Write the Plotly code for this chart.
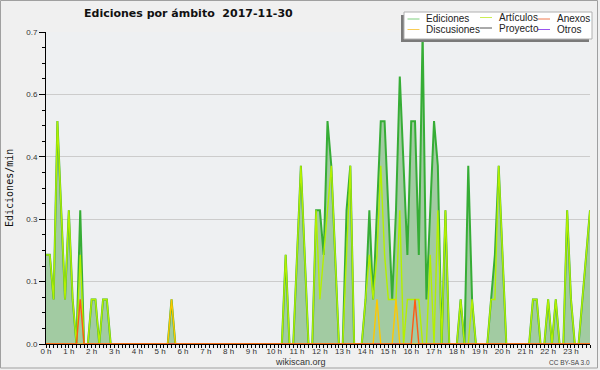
import plotly.graph_objects as go

# 10-minute bins, 00:00 .. 23:50 (6 values per hour row)
ediciones = [
    0.2, 0.2, 0.1, 0.5, 0.3, 0.1,   # 0 h
    0.3, 0.1, 0.0, 0.3, 0.0, 0.0,   # 1 h
    0.1, 0.1, 0.0, 0.1, 0.1, 0.0,   # 2 h
    0.0, 0.0, 0.0, 0.0, 0.0, 0.0,   # 3 h
    0.0, 0.0, 0.0, 0.0, 0.0, 0.0,   # 4 h
    0.0, 0.0, 0.0, 0.1, 0.0, 0.0,   # 5 h
    0.0, 0.0, 0.0, 0.0, 0.0, 0.0,   # 6 h
    0.0, 0.0, 0.0, 0.0, 0.0, 0.0,   # 7 h
    0.0, 0.0, 0.0, 0.0, 0.0, 0.0,   # 8 h
    0.0, 0.0, 0.0, 0.0, 0.0, 0.0,   # 9 h
    0.0, 0.0, 0.0, 0.2, 0.0, 0.0,   # 10 h
    0.2, 0.4, 0.2, 0.0, 0.0, 0.3,   # 11 h
    0.3, 0.2, 0.5, 0.4, 0.2, 0.0,   # 12 h
    0.0, 0.3, 0.4, 0.0, 0.0, 0.0,   # 13 h
    0.1, 0.3, 0.1, 0.3, 0.5, 0.5,   # 14 h
    0.3, 0.1, 0.3, 0.6, 0.4, 0.2,   # 15 h
    0.5, 0.5, 0.2, 0.7, 0.1, 0.3,   # 16 h
    0.5, 0.4, 0.0, 0.3, 0.0, 0.0,   # 17 h
    0.0, 0.1, 0.0, 0.4, 0.1, 0.0,   # 18 h
    0.0, 0.0, 0.0, 0.1, 0.2, 0.4,   # 19 h
    0.2, 0.0, 0.0, 0.0, 0.0, 0.0,   # 20 h
    0.0, 0.0, 0.1, 0.1, 0.0, 0.0,   # 21 h
    0.1, 0.0, 0.1, 0.0, 0.0, 0.3,   # 22 h
    0.1, 0.0, 0.0, 0.1, 0.2, 0.3,   # 23 h
]
articulos = [
    0.2, 0.2, 0.1, 0.5, 0.3, 0.1,
    0.3, 0.1, 0.0, 0.2, 0.0, 0.0,
    0.1, 0.1, 0.0, 0.1, 0.1, 0.0,
    0.0, 0.0, 0.0, 0.0, 0.0, 0.0,
    0.0, 0.0, 0.0, 0.0, 0.0, 0.0,
    0.0, 0.0, 0.0, 0.0, 0.0, 0.0,
    0.0, 0.0, 0.0, 0.0, 0.0, 0.0,
    0.0, 0.0, 0.0, 0.0, 0.0, 0.0,
    0.0, 0.0, 0.0, 0.0, 0.0, 0.0,
    0.0, 0.0, 0.0, 0.0, 0.0, 0.0,
    0.0, 0.0, 0.0, 0.2, 0.0, 0.0,
    0.2, 0.4, 0.2, 0.0, 0.0, 0.3,
    0.1, 0.2, 0.3, 0.4, 0.2, 0.0,
    0.0, 0.2, 0.4, 0.0, 0.0, 0.0,
    0.1, 0.2, 0.1, 0.2, 0.4, 0.2,
    0.1, 0.1, 0.1, 0.3, 0.0, 0.1,
    0.1, 0.1, 0.1, 0.0, 0.0, 0.2,
    0.0, 0.3, 0.0, 0.3, 0.0, 0.0,
    0.0, 0.1, 0.0, 0.0, 0.1, 0.0,
    0.0, 0.0, 0.0, 0.1, 0.1, 0.4,
    0.2, 0.0, 0.0, 0.0, 0.0, 0.0,
    0.0, 0.0, 0.1, 0.1, 0.0, 0.0,
    0.1, 0.0, 0.1, 0.0, 0.0, 0.3,
    0.1, 0.0, 0.0, 0.1, 0.2, 0.3,
]
anexos_bins = {9: 0.1, 97: 0.1}
discusiones_bins = {33: 0.1, 87: 0.1, 92: 0.1}
anexos = [anexos_bins.get(i, 0.0) for i in range(144)]
discusiones = [discusiones_bins.get(i, 0.0) for i in range(144)]
proyecto = [0.0] * 144
otros = [0.0] * 144

hour_labels = [f"{h} h" for h in range(24)]
y_tickvals = [0.0, 0.14, 0.28, 0.42, 0.56, 0.7]
y_ticktext = ["0.0", "0.1", "0.3", "0.4", "0.6", "0.7"]

x = [i / 6 for i in range(144)]

C_TOT = "#36ad36"
C_ART = "#b4f000"
C_ANX = "#ff5a14"
C_DIS = "#ffc800"
C_PRO = "#444444"
C_OTR = "#9933ee"

fig = go.Figure()
fig.add_trace(go.Scatter(x=x, y=ediciones, mode="lines", fill="tozeroy",
                         fillcolor="#a2cba2", line=dict(color=C_TOT, width=2),
                         name="Ediciones", showlegend=False))
fig.add_trace(go.Scatter(x=x, y=articulos, mode="lines",
                         line=dict(color=C_ART, width=1.4), name="Artículos", showlegend=False))
fig.add_trace(go.Scatter(x=x, y=proyecto, mode="lines",
                         line=dict(color=C_PRO, width=1), name="Proyecto", showlegend=False))
fig.add_trace(go.Scatter(x=x, y=otros, mode="lines",
                         line=dict(color=C_OTR, width=1), name="Otros", showlegend=False))
fig.add_trace(go.Scatter(x=x, y=discusiones, mode="lines",
                         line=dict(color=C_DIS, width=1.4), name="Discusiones", showlegend=False))
fig.add_trace(go.Scatter(x=x, y=anexos, mode="lines",
                         line=dict(color=C_ANX, width=1.4), name="Anexos", showlegend=False))

L, R, T, B = 46, 590, 32, 344
W, H = R - L, B - T


def px(xp):
    return (xp - L) / W


def py(yp):
    return (B - yp) / H


shapes = []
annotations = []
# outer frame
shapes.append(dict(type="rect", xref="paper", yref="paper", x0=px(0.5), x1=px(597.5),
                   y0=py(0.5), y1=py(368), line=dict(color="#a0a0a0", width=1), layer="below"))
# legend shadow + box
shapes.append(dict(type="rect", xref="paper", yref="paper", x0=px(401), x1=px(589),
                   y0=py(15), y1=py(42), line=dict(width=0), fillcolor="#7a7a7a"))
shapes.append(dict(type="rect", xref="paper", yref="paper", x0=px(404), x1=px(592),
                   y0=py(12), y1=py(39), line=dict(color="#b0b0b0", width=1), fillcolor="#ffffff"))

legend_items = [
    ("Ediciones", "#7fcf7f", 407.5, 419.5, 19.0),
    ("Discusiones", "#f8cc55", 407.5, 419.5, 29.5),
    ("Artículos", "#ccee55", 480, 492, 17.5),
    ("Proyecto", "#555555", 480, 492, 28.0),
    ("Anexos", "#f07a50", 538, 550, 19.0),
    ("Otros", "#9a55ee", 538, 550, 29.5),
]
for name, col, x0, x1, yy in legend_items:
    shapes.append(dict(type="line", xref="paper", yref="paper", x0=px(x0), x1=px(x1),
                       y0=py(yy), y1=py(yy), line=dict(color=col, width=1)))
    annotations.append(dict(xref="paper", yref="paper", x=px(x1 + 4.5), y=py(yy),
                            xanchor="left", yanchor="middle", showarrow=False, text=name,
                            font=dict(family="Liberation Sans", size=10, color="#222222")))

annotations.append(dict(xref="paper", yref="paper", x=px(188.5), y=py(14), xanchor="center",
                        yanchor="middle", showarrow=False,
                        text="<b>Ediciones por ámbito  2017-11-30</b>",
                        font=dict(family="DejaVu Sans", size=11, color="#111111")))
annotations.append(dict(xref="paper", yref="paper", x=px(9), y=py(188), xanchor="center",
                        yanchor="middle", showarrow=False, text="Ediciones/min", textangle=-90,
                        font=dict(family="DejaVu Sans Mono", size=10, color="#111111")))
annotations.append(dict(xref="paper", yref="paper", x=px(300.5), y=py(362), xanchor="center",
                        yanchor="middle", showarrow=False, text="wikiscan.org",
                        font=dict(family="Liberation Sans", size=9, color="#333333")))
annotations.append(dict(xref="paper", yref="paper", x=px(569), y=py(362.5), xanchor="center",
                        yanchor="middle", showarrow=False, text="CC BY-SA 3.0",
                        font=dict(family="Liberation Sans", size=6.5, color="#444444")))

fig.update_layout(
    width=600, height=370,
    margin=dict(l=L, r=600 - R, t=T, b=370 - B),
    paper_bgcolor="#f0f0f0",
    plot_bgcolor="#eef0f2",
    showlegend=False,
    shapes=shapes,
    annotations=annotations,
    xaxis=dict(range=[0, 143 / 6], tickvals=list(range(24)), ticktext=hour_labels,
               showgrid=False, zeroline=False, showline=True, linecolor="#000000", linewidth=1,
               ticks="outside", ticklen=3, tickcolor="#000000", ticklabelstandoff=-4,
               tickfont=dict(family="Liberation Sans", size=8, color="#333333"),
               minor=dict(dtick=1 / 6, tick0=0, ticks="outside", ticklen=3, tickcolor="#000000"),
               fixedrange=True),
    yaxis=dict(range=[0, 0.7], tickvals=y_tickvals, ticktext=y_ticktext,
               showgrid=True, gridcolor="#cccccc", gridwidth=1, zeroline=False,
               showline=True, linecolor="#000000", linewidth=1,
               ticks="outside", ticklen=6, tickcolor="#000000",
               tickfont=dict(family="Liberation Sans", size=8, color="#333333"),
               minor=dict(dtick=0.035, tick0=0, ticks="outside", ticklen=3, tickcolor="#000000",
                          showgrid=False),
               fixedrange=True),
)

fig.write_html("out.html", config={"displayModeBar": False},
               post_script="document.body.style.margin='0px';document.body.style.overflow='hidden';")
